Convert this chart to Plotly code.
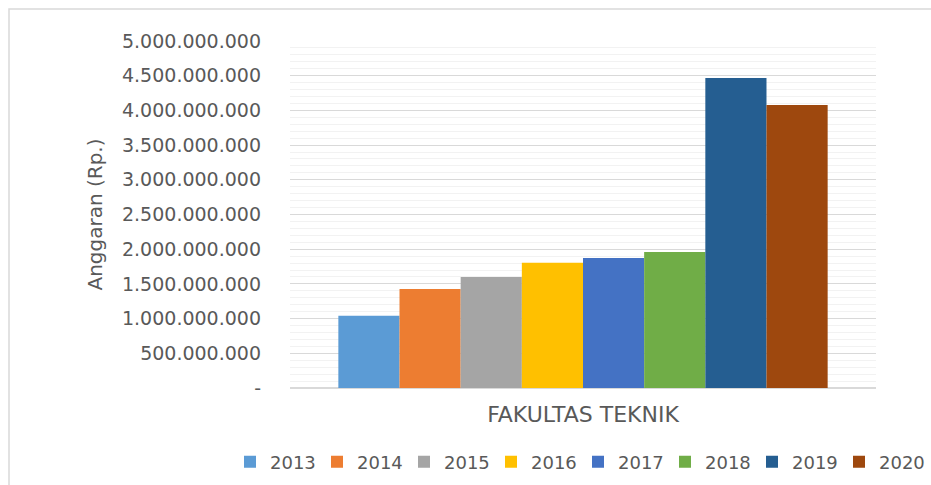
import plotly.graph_objects as go

categories = ["FAKULTAS TEKNIK"]
years = ["2013", "2014", "2015", "2016", "2017", "2018", "2019", "2020"]
values = [1040000000, 1428000000, 1600000000, 1805000000, 1873000000, 1960000000, 4467000000, 4078000000]
colors = ["#5B9BD5", "#ED7D31", "#A5A5A5", "#FFC000", "#4472C4", "#70AD47", "#255E91", "#9E480E"]
tick_vals = [0, 500000000, 1000000000, 1500000000, 2000000000, 2500000000, 3000000000, 3500000000, 4000000000, 4500000000, 5000000000]
tick_text = ["-", "500.000.000", "1.000.000.000", "1.500.000.000", "2.000.000.000", "2.500.000.000",
             "3.000.000.000", "3.500.000.000", "4.000.000.000", "4.500.000.000", "5.000.000.000"]

W, H = 931, 485
L, R, T, B = 290, 55, 41, 97
pw, ph = W - L - R, H - T - B

fig = go.Figure()
for yr, v, c in zip(years, values, colors):
    fig.add_trace(go.Bar(x=categories, y=[v], name=yr, marker=dict(color=c, line=dict(width=0))))

font_fam = "DejaVu Sans"
txt = "#595959"

def px_x(p):
    return (p - L) / pw

def px_y(p):
    return (H - B - p) / ph

fig.update_layout(
    width=W, height=H,
    margin=dict(l=L, r=R, t=T, b=B, autoexpand=False),
    paper_bgcolor="white", plot_bgcolor="white",
    barmode="group", bargap=0.165, bargroupgap=0,
    font=dict(family=font_fam, color=txt),
    showlegend=True,
    legend=dict(orientation="h", x=px_x(230), xanchor="left", y=px_y(462), yanchor="middle",
                font=dict(size=18, color=txt), itemwidth=30, traceorder="normal",
                entrywidth=42, entrywidthmode="pixels",
                bgcolor="rgba(0,0,0,0)"),
    xaxis=dict(showgrid=False, showline=False, ticks="", tickfont=dict(size=22, color=txt),
               ticklabelstandoff=11, automargin=False),
    yaxis=dict(range=[0, 5000000000], tickvals=tick_vals, ticktext=tick_text,
               showgrid=True, gridcolor="#d9d9d9", gridwidth=1,
               zeroline=True, zerolinecolor="#d9d9d9", zerolinewidth=2,
               minor=dict(dtick=100000000, showgrid=True, gridcolor="#f2f2f2", gridwidth=1),
               tickfont=dict(size=19, color=txt), ticklabelstandoff=28, automargin=False,
               title=dict(text="Anggaran (Rp.)", font=dict(size=20, color=txt), standoff=13)),
    shapes=[dict(type="rect", xref="paper", yref="paper",
                 x0=px_x(9), x1=px_x(W + 10), y0=px_y(H + 10), y1=px_y(9),
                 line=dict(color="#d9d9d9", width=1.5), fillcolor="rgba(0,0,0,0)", layer="below")],
)

fig.write_html("out.html", config={"displayModeBar": False},
               post_script="document.body.style.margin='0';document.body.style.overflow='hidden';")
